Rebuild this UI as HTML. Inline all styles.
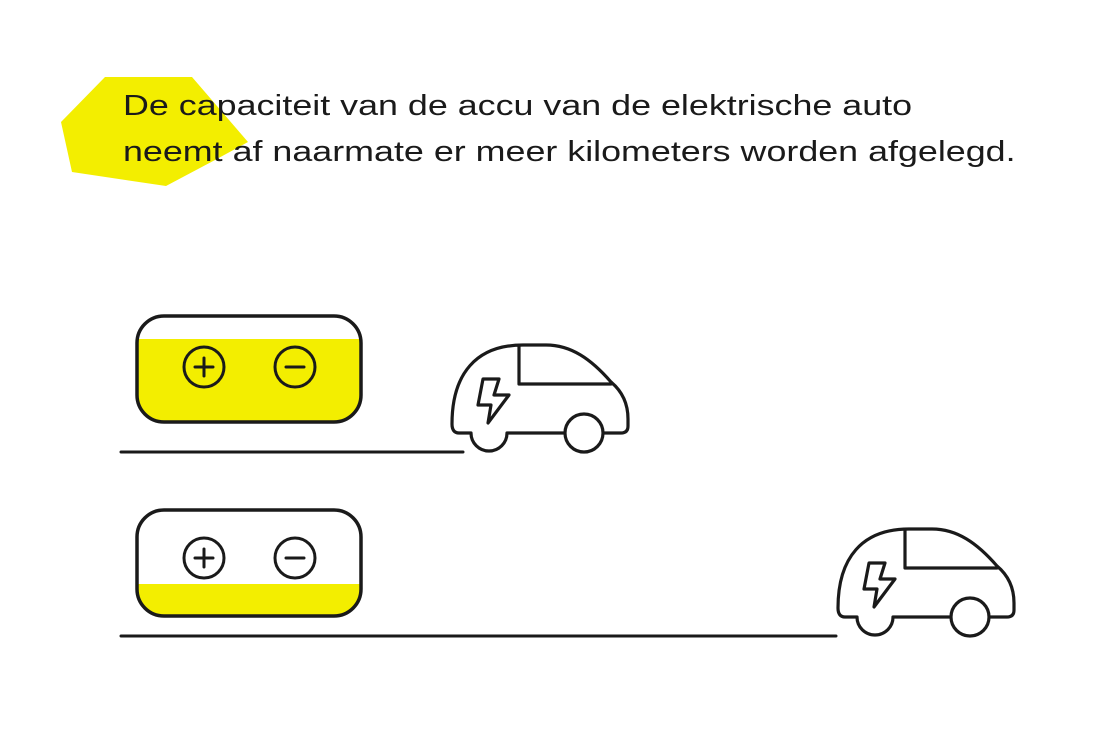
<!DOCTYPE html>
<html><head><meta charset="utf-8"><style>
body{margin:0;width:1100px;height:749px;background:#fff;overflow:hidden;position:relative}
svg{position:absolute;left:0;top:0}
.t{position:absolute;left:123px;font-family:"Liberation Sans",sans-serif;font-size:29px;color:#1a1a1a;white-space:nowrap;transform:scaleX(1.236);transform-origin:0 0}
</style></head><body>
<svg width="1100" height="749" viewBox="0 0 1100 749">
<polygon points="105,77 192,77 248,142 215,160 166,186 72,172 61,122" fill="#f3ee00"/>
<defs>
<g id="car" fill="none" stroke="#1a1a1a" stroke-width="3.2" stroke-linejoin="round" stroke-linecap="round">
<path d="M20,89 L8,89 Q1,89 1,80 C1,30 25,1 72,1 L95,1 C120,1 140,15 160,38 C172,48 177,60 177,75 L177,82 Q177,89 170,89 L152,89 M114,89 L56,89 A18,18 0 0 1 20,89" fill="#fff"/>
<circle cx="133" cy="89" r="19" fill="#fff"/>
<path d="M68,2 L68,40 L160,40"/>
<path d="M32,35 L48,35 L43,51 L58,51 L37,79 L40,61 L27,61 Z"/>
</g>
<g id="plus" fill="none" stroke="#1a1a1a" stroke-width="3" stroke-linecap="round">
<circle cx="0" cy="0" r="20"/><path d="M-9,0 H9 M0,-9 V9"/>
</g>
<g id="minus" fill="none" stroke="#1a1a1a" stroke-width="3" stroke-linecap="round">
<circle cx="0" cy="0" r="20"/><path d="M-9,0 H9"/>
</g>
<clipPath id="b1"><rect x="137" y="339" width="224" height="83"/></clipPath>
<clipPath id="b2"><rect x="137" y="584" width="224" height="32"/></clipPath>
</defs>
<rect x="137" y="316" width="224" height="106" rx="27" fill="#f3ee00" clip-path="url(#b1)"/>
<rect x="137" y="316" width="224" height="106" rx="27" fill="none" stroke="#1a1a1a" stroke-width="3.5"/>
<use href="#plus" x="204" y="367"/><use href="#minus" x="295" y="367"/>
<line x1="121" y1="452" x2="463" y2="452" stroke="#1a1a1a" stroke-width="3" stroke-linecap="round"/>
<use href="#car" x="451" y="344"/>
<rect x="137" y="510" width="224" height="106" rx="27" fill="#f3ee00" clip-path="url(#b2)"/>
<rect x="137" y="510" width="224" height="106" rx="27" fill="none" stroke="#1a1a1a" stroke-width="3.5"/>
<use href="#plus" x="204" y="558"/><use href="#minus" x="295" y="558"/>
<line x1="121" y1="636" x2="836" y2="636" stroke="#1a1a1a" stroke-width="3" stroke-linecap="round"/>
<use href="#car" x="837" y="528"/>
</svg>
<div class="t" style="top:90px">De capaciteit van de accu van de elektrische auto</div>
<div class="t" style="top:136px">neemt af naarmate er meer kilometers worden afgelegd.</div>
</body></html>
